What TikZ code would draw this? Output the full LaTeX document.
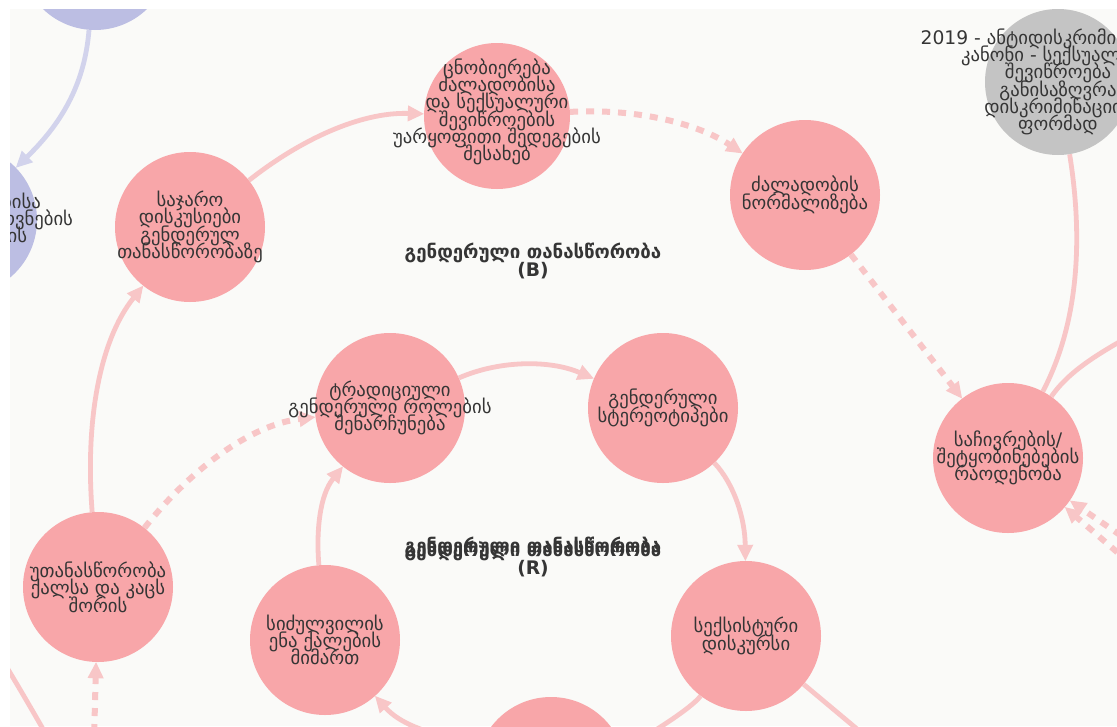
\documentclass[tikz,border=0pt]{standalone}
\usepackage{fontspec}
\setmainfont{DejaVu Sans}
\usetikzlibrary{arrows.meta}

\definecolor{nodepink}{HTML}{F8A6A9}
\definecolor{edgepink}{HTML}{F8C6C7}
\definecolor{lavender}{HTML}{BCBEE3}
\definecolor{edgeblue}{HTML}{D2D3EC}
\definecolor{lawgray}{HTML}{C4C4C4}
\definecolor{canvas}{HTML}{FAFAF8}
\definecolor{txt}{HTML}{353535}

\newcommand\captionfont{\fontsize{18.7}{17.3}\selectfont\lineskiplimit -30pt\relax}
\newcommand\loopfont{\bfseries\fontsize{18.7}{18}\selectfont\lineskiplimit -30pt\relax}

\pgfdeclarelayer{backdrop}
\pgfdeclarelayer{edges}
\pgfsetlayers{backdrop,edges,main}

\tikzset{
  concept/.style={circle, fill=nodepink, minimum size=150pt, inner sep=0pt},
  caption/.style={align=center, text=txt, inner sep=0pt, font=\captionfont},
  link/.style={draw=edgepink, line width=4.8pt,
    -{Triangle[length=16pt,width=16pt,line width=1pt]}},
  dlink/.style={link, line width=6pt, dash pattern=on 8pt off 8pt},
  plain/.style={draw=edgepink, line width=4.8pt},
  looplabel/.style={font=\loopfont, text=txt, align=center}
}

\begin{document}
\begin{tikzpicture}[x=1pt,y=-1pt]
    \useasboundingbox (0,0) rectangle (1117,726);
    \begin{pgfonlayer}{backdrop}
        \fill[white] (0,0) rectangle (1117,726);
        \fill[canvas] (10,9) rectangle (1117,726);
    \end{pgfonlayer}

    \begin{scope}
    \clip (10,9) rectangle (1117,726);
    % loop B
    \node[concept, minimum size=146pt, label={[caption, yshift=4pt]center:{ცნობიერება\\ძალადობისა\\და სექსუალური\\შევიწროების\\უარყოფითი შედეგების\\შესახებ}}] (awareness) at (497,116) {};
    \node[concept, label={[caption]center:{საჯარო\\დისკუსიები\\გენდერულ\\თანასწორობაზე}}] (debates) at (190,227) {};
    \node[concept, label={[caption]center:{ძალადობის\\ნორმალიზება}}] (normal) at (805,195) {};
    \node[concept, fill=lawgray, minimum size=146pt, label={[caption]center:{2019 - ანტიდისკრიმინაციული\\კანონი - სექსუალური\\შევიწროება\\განისაზღვრა\\დისკრიმინაციის\\ფორმად}}] (law) at (1058,82) {};
    \node[concept, label={[caption]center:{საჩივრების/\\შეტყობინებების\\რაოდენობა}}] (reports) at (1008,458) {};
    \node[concept, label={[caption]center:{უთანასწორობა\\ქალსა და კაცს\\შორის}}] (inequal) at (98,587) {};
    % loop R
    \node[concept, label={[caption]center:{ტრადიციული\\გენდერული როლების\\შენარჩუნება}}] (roles) at (390,408) {};
    \node[concept, label={[caption]center:{გენდერული\\სტერეოტიპები}}] (stereo) at (663,408) {};
    \node[concept, label={[caption]center:{სიძულვილის\\ენა ქალების\\მიმართ}}] (hate) at (325,640) {};
    \node[concept, label={[caption]center:{სექსისტური\\დისკურსი}}] (sexist) at (746,636) {};
    \node[concept] (lower) at (551,772) {};
    % blue ones on the left
    \node[concept, fill=lavender] (upper) at (95,-45) {};
    \node[concept, fill=lavender, label={[caption]center:{ქალის უფლებისა\\და ქალთა მოთხოვნების\\ინტეგრირების}}] (rights) at (-38,220) {};

    \node[looplabel] (loopB) at (533,261) {გენდერული თანასწორობა\\(B)};
    \node[looplabel] (loopR) at (533,559) {გენდერული თანასწორობა\\(R)};
    \node[looplabel, anchor=north] (loopRdup) at ([yshift=4pt]loopR.north) {გენდერული თანასწორობა};

    \coordinate (offR) at (1180,310);
    \coordinate (offA) at (1200,590);
    \coordinate (offB) at (1190,615);
    \coordinate (offS) at (900,765);
    \coordinate (offC) at (93,780);
    \coordinate (offD) at (-10,640);
    \coordinate (offE) at (55,750);
    \end{scope}

    \begin{pgfonlayer}{edges}
    \begin{scope}
    \clip (10,9) rectangle (1117,726);
    \draw[link] (debates) .. controls (300,140) and (360,112) .. (awareness);
    \draw[dlink] (awareness) .. controls (640,108) and (700,125) .. (normal);
    \draw[dlink] (normal) -- (reports);
    \draw[plain] (law) .. controls (1085,250) and (1075,330) .. (reports);
    \draw[plain] (reports) .. controls (1070,370) and (1100,350) .. (offR);
    \draw[dlink] (offA) -- (reports);
    \draw[dlink] (offB) -- (reports);
    \draw[link] (roles) .. controls (500,360) and (550,360) .. (stereo);
    \draw[link] (stereo) .. controls (735,485) and (745,520) .. (sexist);
    \draw[link] (sexist) .. controls (690,710) and (640,740) .. (lower);
    \draw[link] (sexist) -- (offS);
    \draw[link] (lower) .. controls (470,740) and (410,735) .. (hate);
    \draw[link] (hate) .. controls (316,530) and (320,495) .. (roles);
    \draw[dlink] (inequal) .. controls (190,470) and (250,425) .. (roles);
    \draw[link] (inequal) .. controls (85,420) and (100,340) .. (debates);
    \draw[dlink] (offC) -- (inequal);
    \draw[plain] (offD) .. controls (15,680) and (35,715) .. (offE);
    \draw[link, draw=edgeblue] (upper) .. controls (85,80) and (65,120) .. (rights);
    \end{scope}
    \end{pgfonlayer}
\end{tikzpicture}
\end{document}
